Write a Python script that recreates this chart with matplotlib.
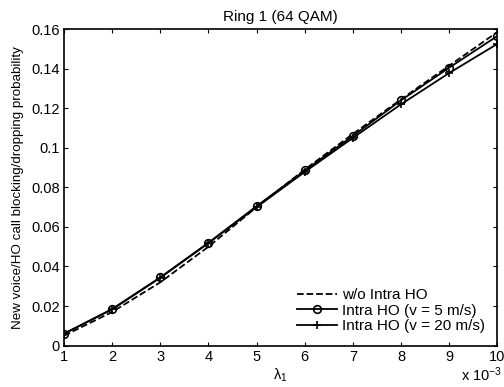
import matplotlib
matplotlib.use("Agg")
import matplotlib.pyplot as plt

plt.rcParams['font.family'] = ['Liberation Sans', 'DejaVu Sans']
plt.rcParams['mathtext.fontset'] = 'custom'
plt.rcParams['mathtext.rm'] = 'Liberation Sans'
plt.rcParams['mathtext.it'] = 'Liberation Sans'

# lambda_1 (x 10^-3)
lam = [1, 2, 3, 4, 5, 6, 7, 8, 9, 10]
wo_intra = [0.0050, 0.0170, 0.0320, 0.0500, 0.0700, 0.0890, 0.1070, 0.1245, 0.1415, 0.1585]
intra_v5 = [0.0060, 0.0185, 0.0345, 0.0520, 0.0705, 0.0885, 0.1060, 0.1240, 0.1405, 0.1565]
intra_v20 = [0.0060, 0.0183, 0.0343, 0.0518, 0.0700, 0.0878, 0.1050, 0.1220, 0.1378, 0.1525]

yticks = [0, 0.02, 0.04, 0.06, 0.08, 0.1, 0.12, 0.14, 0.16]
ytick_labels = ['0', '0.02', '0.04', '0.06', '0.08', '0.1', '0.12', '0.14', '0.16']

fs = 10.5
fig = plt.figure(figsize=(5.04, 3.87), dpi=100)
ax = fig.add_axes([0.127, 0.107, 0.860, 0.818])

ax.plot(lam, wo_intra, 'k--', lw=1.3, label='w/o Intra HO')
ax.plot(lam, intra_v5, 'k-', lw=1.3, marker='o', ms=5.5, mfc='none', mew=1.2,
        label='Intra HO (v = 5 m/s)')
ax.plot(lam, intra_v20, 'k-', lw=1.3, marker='+', ms=6, mew=1.2,
        label='Intra HO (v = 20 m/s)')

ax.set_xlim(1, 10)
ax.set_ylim(0, 0.16)
ax.set_xticks(lam)
ax.set_yticks(yticks)
ax.set_yticklabels(ytick_labels)
ax.tick_params(direction='in', top=True, right=True, labelsize=fs, length=3, width=0.8, pad=3)
for s in ax.spines.values():
    s.set_linewidth(1.2)

ax.set_title('Ring 1 (64 QAM)', fontsize=11, pad=6)
ax.set_ylabel('New voice/HO call blocking/dropping probability', fontsize=9.6, labelpad=5)
ax.set_xlabel(r'$\lambda_1$', fontsize=fs, labelpad=2)
fig.text(0.997, 0.008, r'x 10$^{-3}$', ha='right', va='bottom', fontsize=fs)

ax.legend(loc='lower right', frameon=False, fontsize=11, handlelength=2.6,
          handletextpad=0.35, labelspacing=0.1, borderaxespad=0.4)

fig.savefig('out.png', dpi=100)
